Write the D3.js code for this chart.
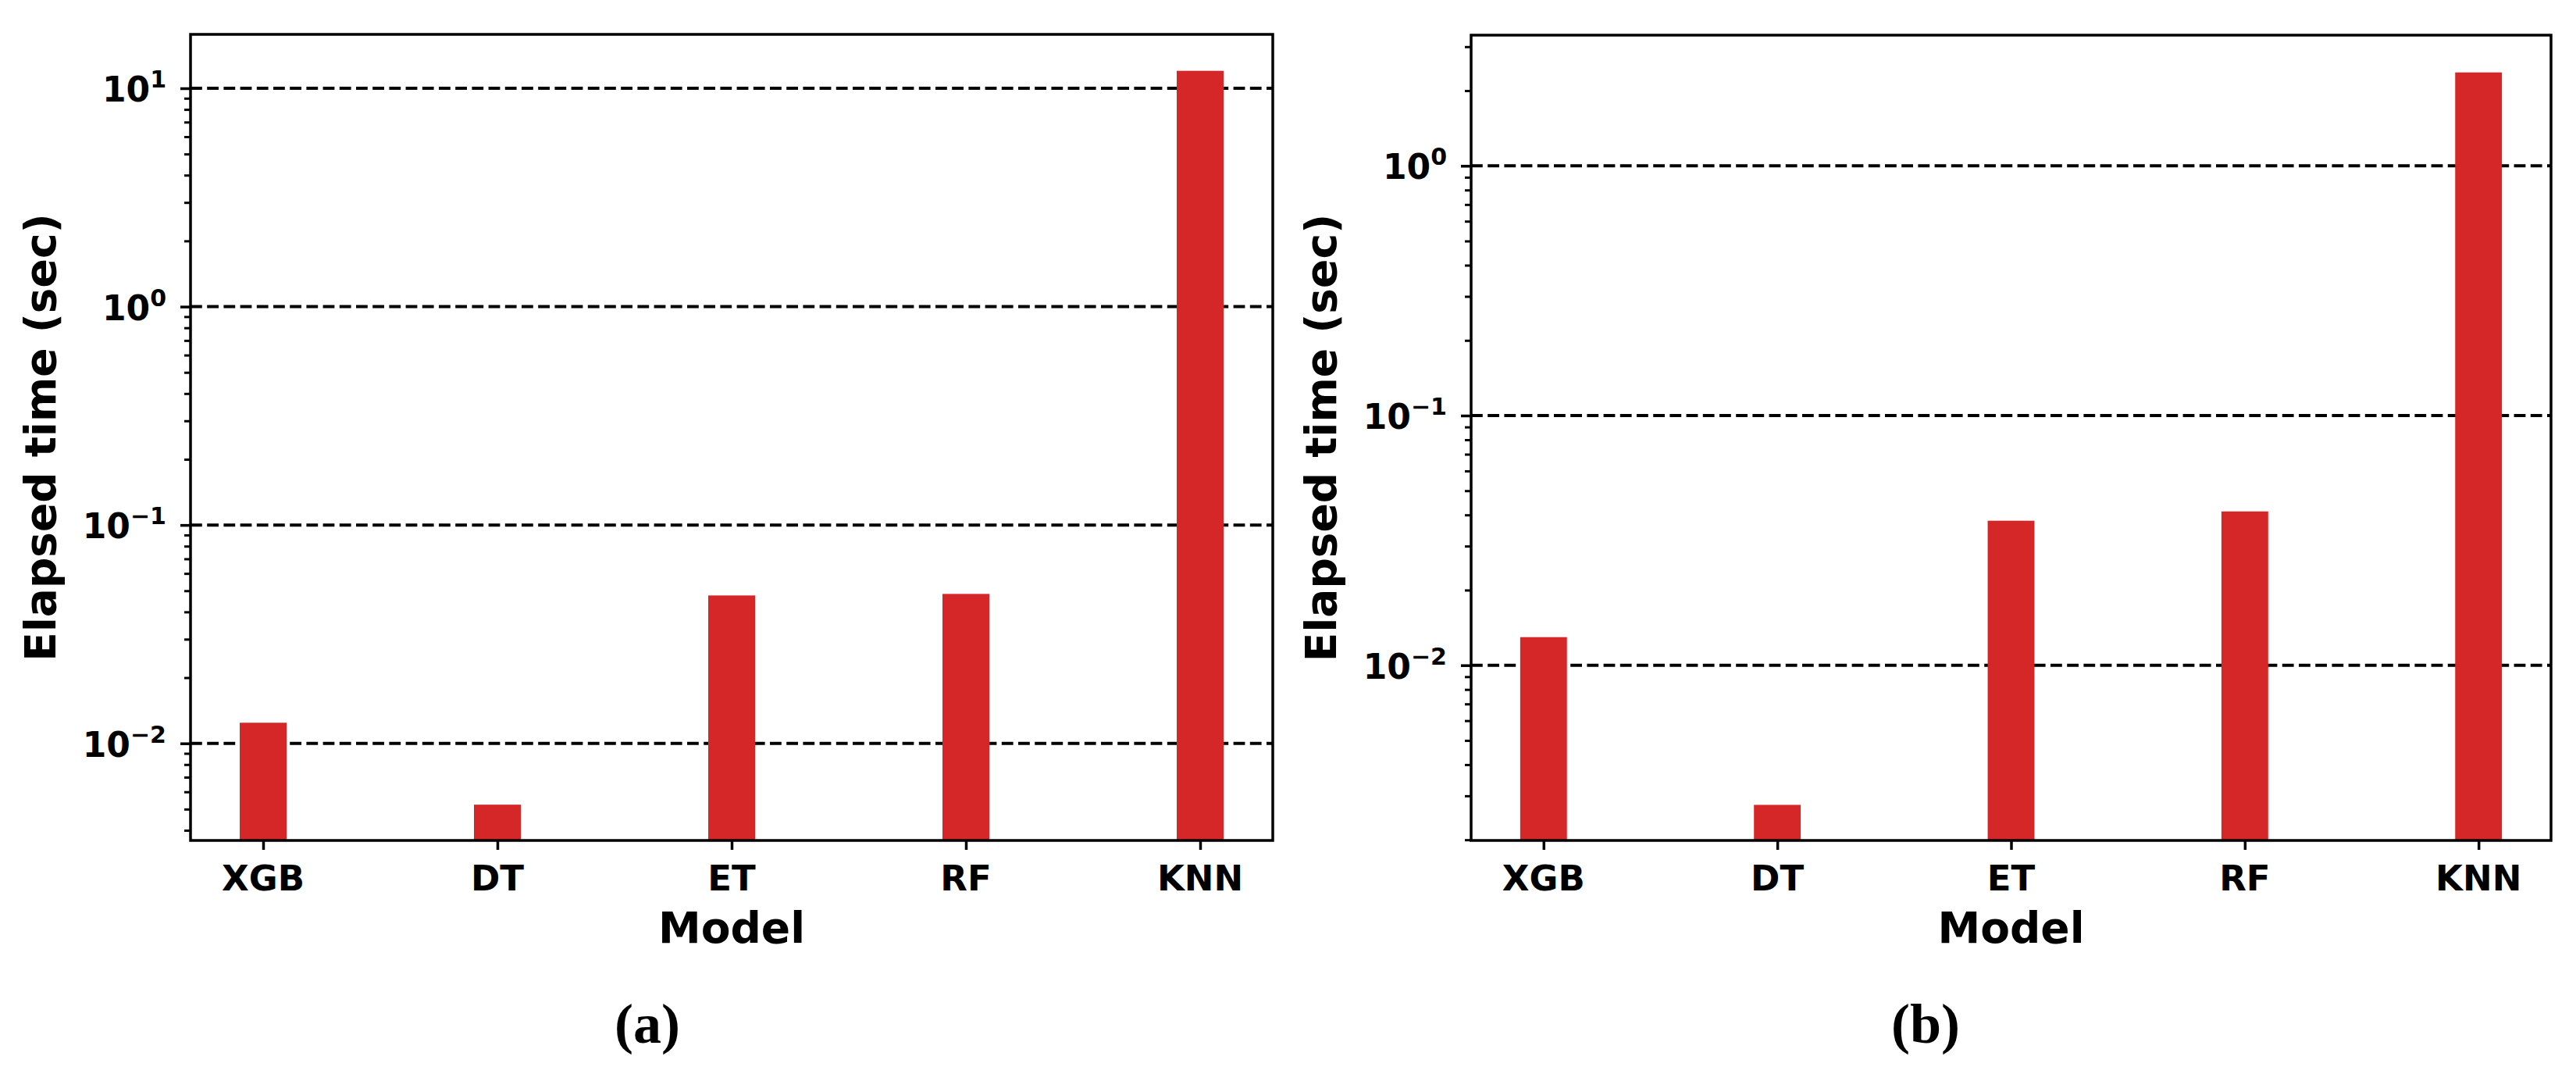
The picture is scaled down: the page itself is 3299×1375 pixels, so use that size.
<!DOCTYPE html>
<html>
<head>
<meta charset="utf-8">
<script src="https://cdn.jsdelivr.net/npm/d3@7"></script>
<style>
  body { margin: 0; background: #fff; }
  text { font-family: "DejaVu Sans", sans-serif; font-weight: bold; fill: #000; }
  .caption { font-family: "Liberation Serif", "DejaVu Serif", serif; }
</style>
</head>
<body>
<div id="chart"></div>
<script>
// categories and measured elapsed times (seconds)
const models = ["XGB", "DT", "ET", "RF", "KNN"];
const timesA = [0.01243, 0.00524, 0.04757, 0.04835, 12.02];
const timesB = [0.01296, 0.00276, 0.03791, 0.04131, 2.366];
const majorTicksA = [0.01, 0.1, 1, 10];
const majorTicksB = [0.01, 0.1, 1];
const tickExpA = ["−2", "−1", "0", "1"];
const tickExpB = ["−2", "−1", "0"];

const W = 3299, H = 1375;
const barColor = "#d62728";

const svg = d3.select("#chart").append("svg")
    .attr("width", W)
    .attr("height", H);

svg.append("rect").attr("width", W).attr("height", H).attr("fill", "#fff");

function drawPanel(opt) {
    const left = opt.left, right = opt.right, top = opt.top, bottom = opt.bottom;

    const x = d3.scaleLinear()
        .domain([-0.31, models.length - 1 + 0.31])
        .range([left, right]);
    const y = d3.scaleLog()
        .domain(opt.yDomain)
        .range([bottom, top]);

    const g = svg.append("g");

    // dashed grid at decades
    g.selectAll(".grid")
        .data(opt.majors)
        .enter().append("line")
        .attr("x1", left).attr("x2", right)
        .attr("y1", d => y(d)).attr("y2", d => y(d))
        .attr("stroke", "#000")
        .attr("stroke-width", 4)
        .attr("stroke-dasharray", "14.8,6.4");

    // bars
    const bw = x(0.1) - x(-0.1);
    g.selectAll(".bar")
        .data(opt.values)
        .enter().append("rect")
        .attr("class", "bar")
        .attr("fill", barColor)
        .attr("x", (d, i) => x(i) - bw / 2)
        .attr("width", bw)
        .attr("y", d => y(d))
        .attr("height", d => bottom - y(d));

    // minor ticks
    const minors = [];
    const lo = Math.floor(Math.log10(opt.yDomain[0])), hi = Math.ceil(Math.log10(opt.yDomain[1]));
    for (let e = lo; e <= hi; e++) {
        for (let m = 2; m <= 9; m++) {
            const v = m * Math.pow(10, e);
            if (v >= opt.yDomain[0] * 0.999 && v <= opt.yDomain[1]) minors.push(v);
        }
    }
    const minorAxis = g.append("g")
        .attr("transform", "translate(" + left + ",0)")
        .call(d3.axisLeft(y).tickValues(minors).tickSize(8).tickFormat(""));
    minorAxis.select(".domain").remove();
    minorAxis.selectAll("line").attr("stroke-width", 3);

    // major y ticks
    const yAxis = g.append("g")
        .attr("transform", "translate(" + left + ",0)")
        .call(d3.axisLeft(y).tickValues(opt.majors).tickSize(13).tickFormat(""));
    yAxis.select(".domain").remove();
    yAxis.selectAll("line").attr("stroke-width", 3.5);

    // y tick labels 10^k
    const lbl = g.selectAll(".ylbl")
        .data(opt.majors)
        .enter().append("text")
        .attr("x", left - 31)
        .attr("y", d => y(d) + 17)
        .attr("text-anchor", "end")
        .style("font-size", "44px");
    lbl.append("tspan").text("10");
    lbl.append("tspan")
        .attr("dy", -18)
        .style("font-size", "30px")
        .text((d, i) => opt.exps[i]);

    // x ticks
    const xAxis = g.append("g")
        .attr("transform", "translate(0," + bottom + ")")
        .call(d3.axisBottom(x).tickValues(d3.range(models.length)).tickSize(12).tickFormat(""));
    xAxis.select(".domain").remove();
    xAxis.selectAll("line").attr("stroke-width", 3.5);

    g.selectAll(".xlbl")
        .data(models)
        .enter().append("text")
        .attr("x", (d, i) => x(i))
        .attr("y", bottom + 64)
        .attr("text-anchor", "middle")
        .style("font-size", "45px")
        .text(d => d);

    // frame
    g.append("rect")
        .attr("x", left).attr("y", top)
        .attr("width", right - left).attr("height", bottom - top)
        .attr("fill", "none")
        .attr("stroke", "#000")
        .attr("stroke-width", 3.5);

    // axis titles
    g.append("text")
        .attr("x", (left + right) / 2)
        .attr("y", 1207)
        .attr("text-anchor", "middle")
        .style("font-size", "55px")
        .text("Model");

    g.append("text")
        .attr("transform", "translate(" + (left - 173) + "," + ((top + bottom) / 2) + ") rotate(-90)")
        .attr("text-anchor", "middle")
        .style("font-size", "55px")
        .text("Elapsed time (sec)");

    // caption
    svg.append("text")
        .attr("class", "caption")
        .attr("x", opt.capX)
        .attr("y", 1335)
        .attr("text-anchor", "middle")
        .style("font-size", "72px")
        .text(opt.caption);
}

drawPanel({
    left: 244, right: 1630, top: 44, bottom: 1076,
    yDomain: [Math.pow(10, -2.4446), Math.pow(10, 1.2468)],
    values: timesA, majors: majorTicksA, exps: tickExpA,
    caption: "(a)", capX: 829
});

drawPanel({
    left: 1884, right: 3267, top: 45, bottom: 1076,
    yDomain: [Math.pow(10, -2.7016), Math.pow(10, 0.5233)],
    values: timesB, majors: majorTicksB, exps: tickExpB,
    caption: "(b)", capX: 2466
});
</script>
</body>
</html>
